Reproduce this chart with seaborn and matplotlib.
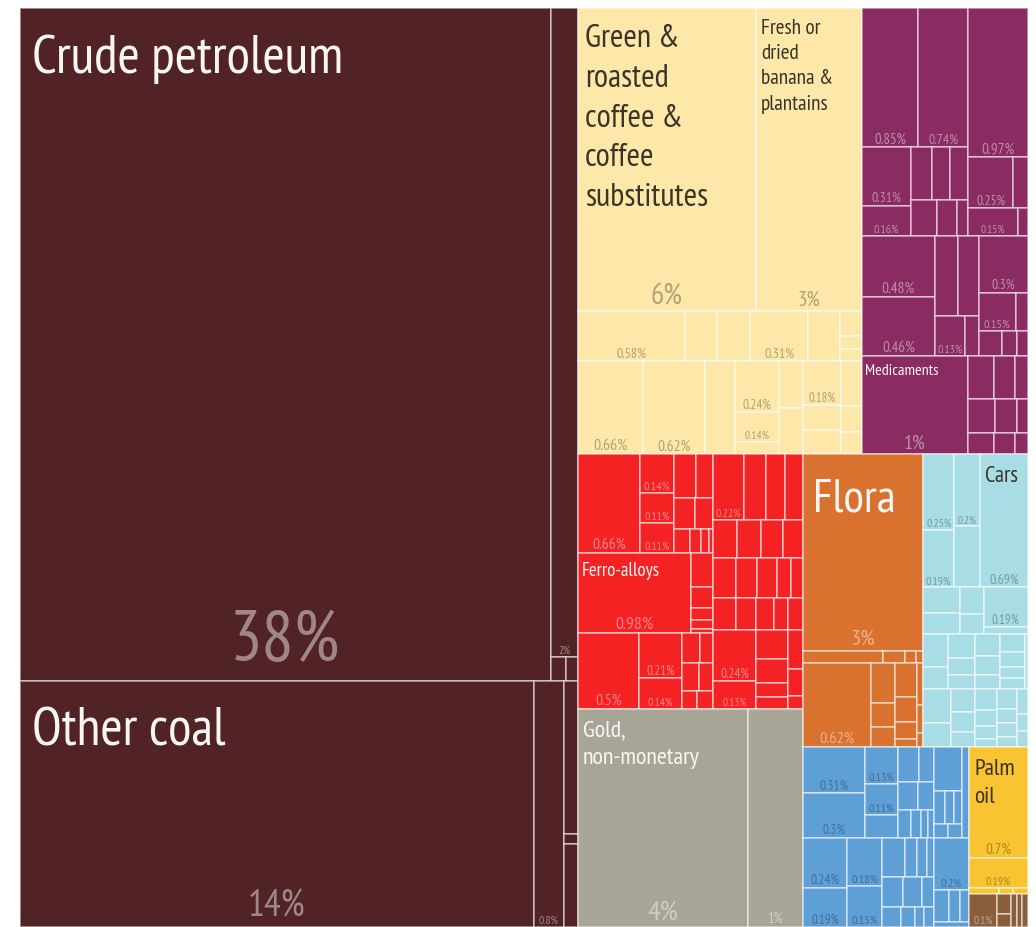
import matplotlib
matplotlib.use("Agg")
import matplotlib.pyplot as plt
from matplotlib.patches import Rectangle
from matplotlib.font_manager import FontProperties
import pandas as pd
import seaborn as sns

# --- Data: export shares (%) ---
# leaf = value, or (value, name); name "" -> only the percent is printed
# nested lists = groups of cells
FUEL = [
    [(38.45, "Crude petroleum"), [(1.89, ""), [0.04, 0.03]]],
    [(13.63, "Other coal"), (0.8, ""), [0.23, 0.015, 0.125]],
]
COFFEE = [
    [(5.84, "Green &\nroasted\ncoffee &\ncoffee\nsubstitutes"),
     (3.45, "Fresh or\ndried\nbanana &\nplantains")],
    [(0.58, ""), 0.17, 0.18, (0.31, ""), 0.17, [0.06, 0.03, 0.03]],
    [(0.66, ""), (0.62, ""), 0.3, [(0.24, ""), (0.14, ""), 0.06], [0.12, 0.12],
     [(0.18, ""), 0.1, 0.1], [0.1, 0.06, 0.05]],
]
CHEM = [
    [[[(0.85, ""), (0.74, "")],
      [[(0.31, ""), (0.16, "")], [[0.12, 0.1, 0.1], [0.1, 0.08, 0.04]]]],
     [(0.97, ""), [(0.25, ""), 0.08], [(0.15, ""), 0.03]]],
    [[(0.48, ""), (0.46, "")], [[0.2, 0.18], [(0.13, ""), 0.06]],
     [(0.3, ""), [(0.15, ""), 0.05], [0.06, 0.04, 0.03]]],
    [(1.13, "Medicaments"), [[0.12, 0.1, 0.06], [0.1, 0.08, 0.04], [0.06, 0.05, 0.03]]],
]
METAL = [
    [[(0.66, ""), [(0.14, ""), (0.11, ""), (0.11, "")],
      [[0.1, 0.08], [0.07, 0.06], [0.04, 0.03, 0.02, 0.01]]],
     [(0.98, "Ferro-alloys"), [0.08, 0.05, 0.03, 0.02, 0.01]],
     [(0.5, ""), [(0.21, ""), (0.14, "")], [[0.06, 0.04], [0.05, 0.04], [0.03, 0.03]]]],
    [[(0.22, ""), 0.15, 0.14, 0.12],
     [0.1, 0.1, 0.09, 0.08],
     [0.1, 0.09, 0.09, 0.06, 0.05],
     [0.08, 0.07, 0.06, 0.05, 0.05],
     [[(0.24, ""), (0.13, "")], [0.1, 0.08, 0.05, 0.04], [0.06, 0.04, 0.02]]],
]
GOLD = [(4.0, "Gold,\nnon-monetary"), (1.29, "")]
FLORA = [
    (2.55, "Flora"),
    [0.11, 0.03, 0.015, 0.01],
    [(0.62, ""), [0.1, 0.06, 0.05], [0.08, 0.06, 0.04, 0.02], [0.03, 0.02, 0.01]],
]
LBLUE = [
    [[(0.25, ""), (0.19, "")], [(0.2, ""), 0.17], (0.69, "Cars")],
    [[0.1, 0.08], [0.07, 0.05], [(0.19, ""), 0.03]],
    [[0.09, 0.06], [0.07, 0.05, 0.04], [0.06, 0.05, 0.04], [0.05, 0.04, 0.03, 0.03], 0.02],
    [[0.1, 0.07], [0.06, 0.05, 0.04], [0.05, 0.04, 0.03, 0.02],
     [0.04, 0.03, 0.03, 0.02], [0.03, 0.02, 0.02]],
]
BLUE = [
    [[(0.31, ""), (0.3, "")], [(0.13, ""), (0.11, ""), 0.08],
     [[0.08, 0.06], [0.06, 0.05], [0.04, 0.03, 0.02, 0.02]],
     [0.13, [0.04, 0.03, 0.03], [0.02, 0.02]], 0.07],
    [[(0.24, ""), (0.19, "")], [(0.18, ""), (0.15, "")],
     [[0.1, 0.05, 0.04, 0.03], [0.07, 0.06, 0.04], [0.04, 0.03, 0.02, 0.02]],
     [(0.2, ""), [0.05, 0.04, 0.03], 0.02]],
]
PALM = [[(0.7, "Palm\noil"), (0.19, ""), [0.02, 0.01, 0.01]]]
BROWN = [(0.1, ""), [0.03, 0.02], 0.02, 0.02, 0.02]

CATEGORY_ITEMS = {"fuel": FUEL, "coffee": COFFEE, "chem": CHEM, "metal": METAL,
                  "gold": GOLD, "flora": FLORA, "lblue": LBLUE, "blue": BLUE,
                  "palm": PALM, "brown": BROWN}
# how the category blocks are grouped (split direction alternates per level)
CATEGORY_TREE = ["fuel", [["coffee", "chem"],
                          [["metal", "gold"], [["flora", "lblue"], ["blue", ["palm", "brown"]]]]]]

# --- Style ---
CATEGORY_COLORS = {"fuel": "#512326", "coffee": "#FDE8A9", "chem": "#8A2C62",
                   "metal": "#F42222", "gold": "#A7A596", "flora": "#D9722E",
                   "lblue": "#A9DDE6", "blue": "#5E9FD6", "palm": "#F8C431",
                   "brown": "#8A5D3B"}
LIGHT_TEXT = {"fuel", "chem", "metal", "gold", "flora", "brown"}
FONT = ["PT Sans Narrow", "Liberation Sans Narrow", "DejaVu Sans"]

W_PX, H_PX = 1036, 927
AX_LEFT, AX_TOP, AX_W, AX_H = 20, 8, 1008, 919


def node_value(node):
    if isinstance(node, str):
        return node_value(CATEGORY_ITEMS[node])
    if isinstance(node, tuple):
        return node[0]
    if isinstance(node, list):
        return sum(node_value(c) for c in node)
    return node


def layout(node, x, y, w, h, horizontal, group, out):
    if isinstance(node, str):
        layout(CATEGORY_ITEMS[node], x, y, w, h, horizontal, node, out)
    elif isinstance(node, list):
        total = node_value(node)
        pos = 0.0
        for child in node:
            frac = node_value(child) / total
            if horizontal:
                layout(child, x + pos * w, y, frac * w, h, not horizontal, group, out)
            else:
                layout(child, x, y + pos * h, w, frac * h, not horizontal, group, out)
            pos += frac
    else:
        value, label = node if isinstance(node, tuple) else (node, None)
        out.append(dict(group=group, value=value, label=label, x=x, y=y, w=w, h=h))


def pct_text(v):
    return f"{v:.0f}%" if v >= 1 else f"{v:.2g}%"


sns.set_theme(style="white")
plt.rcParams["font.family"] = FONT

leaves = []
layout(CATEGORY_TREE, 0, 0, AX_W, AX_H, True, None, leaves)
cells = pd.DataFrame(leaves)

fig = plt.figure(figsize=(W_PX / 100, H_PX / 100), dpi=100)
ax = fig.add_axes([AX_LEFT / W_PX, 1 - (AX_TOP + AX_H) / H_PX, AX_W / W_PX, AX_H / H_PX])
ax.set_xlim(0, AX_W)
ax.set_ylim(AX_H, 0)
ax.axis("off")

renderer = fig.canvas.get_renderer()
fp10 = FontProperties(family=FONT, size=10)
PX_PER_PT = 100 / 72


def text_width_per_px(s):
    # width of the widest line for a 1px font
    widths = [renderer.get_text_width_height_descent(line, fp10, ismath=False)[0]
              for line in s.split("\n")]
    return max(widths) / (10 * PX_PER_PT)


for c in cells.itertuples():
    ax.add_patch(Rectangle((c.x, c.y), c.w, c.h, facecolor=CATEGORY_COLORS[c.group],
                           edgecolor=(1, 1, 1, 0.55), linewidth=1.2))

for c in cells[cells["label"].notna()].itertuples():
    light = c.group in LIGHT_TEXT
    # percent label, bottom centre
    p = pct_text(c.value)
    fs = 0.12 * min(c.w, c.h) + 8
    fs = min(fs, 0.85 * c.w / text_width_per_px(p))
    ax.text(c.x + c.w / 2, c.y + c.h - 0.27 * fs, p, ha="center", va="baseline",
            fontsize=fs / PX_PER_PT,
            color=(1, 1, 1, 0.45) if light else (0, 0, 0, 0.3))
    # name label, top left
    if c.label:
        nlines = c.label.count("\n") + 1
        fs = min(54, 0.69 * c.w / text_width_per_px(c.label),
                 0.95 * c.h / (nlines * 1.42))
        ax.text(c.x + 0.22 * fs, c.y + 0.5 * fs, c.label, ha="left", va="top",
                fontsize=fs / PX_PER_PT, linespacing=1.42,
                color="#FBF6F4" if light else "#3b3427")

fig.savefig("out.png", dpi=100, facecolor="white")
